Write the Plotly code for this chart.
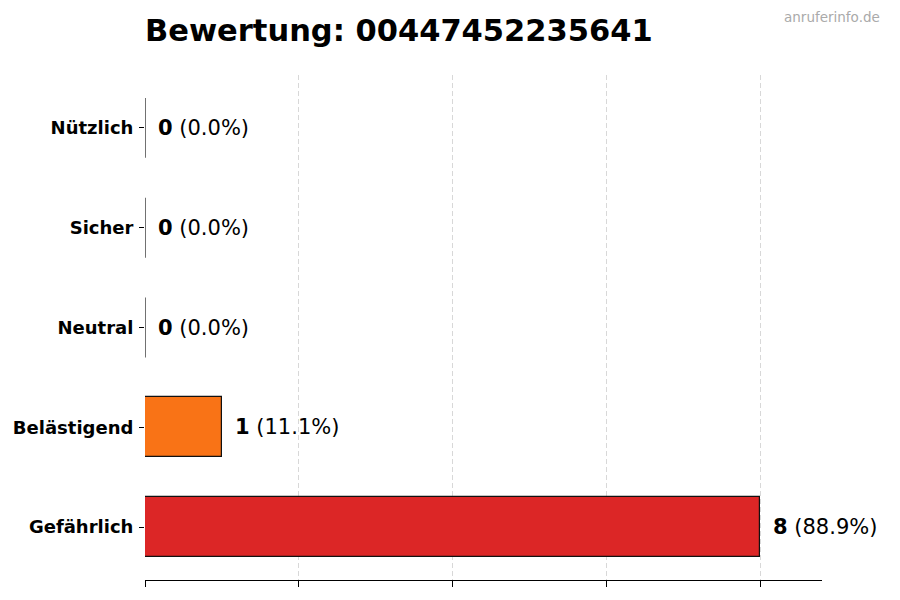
import plotly.graph_objects as go

categories = ["Gefährlich", "Belästigend", "Neutral", "Sicher", "Nützlich"]
counts = [8, 1, 0, 0, 0]
colors = ["#dc2626", "#f97316", "#9ca3af", "#16a34a", "#2563eb"]
title_text = "Bewertung: 00447452235641"
watermark = "anruferinfo.de"

total = sum(counts)
ypos = list(range(len(categories)))
bar_h = 0.6

# page body has an 8px default offset; compensate in the margins
OFF = 8
L, R, T, B = 145 - OFF, 900 - (822 - OFF), 75 - OFF, 600 - (580 - OFF)
PW, PH = 900 - L - R, 600 - T - B

fig = go.Figure()
fig.add_trace(go.Bar(
    x=counts, y=ypos, orientation="h", width=bar_h,
    marker=dict(color=colors, line=dict(color="#111111", width=1.2)),
    hoverinfo="skip", showlegend=False,
))

# zero-valued bars: draw their outline edge as matplotlib does
for i, c in enumerate(counts):
    if c == 0:
        fig.add_shape(type="line", xref="x", yref="y",
                      x0=c, x1=c, y0=i - bar_h / 2, y1=i + bar_h / 2,
                      line=dict(color="#111111", width=1.2))

for i, c in enumerate(counts):
    pct = 100 * c / total if total else 0
    fig.add_annotation(
        x=c, y=i, xref="x", yref="y",
        text=f"<b>{c}</b> ({pct:.1f}%)",
        showarrow=False, xanchor="left", yanchor="middle", xshift=11,
        font=dict(family="DejaVu Sans", size=21, color="#000000"),
    )

fig.add_annotation(
    x=1 + (882 - OFF - (900 - R)) / PW, y=1 + (T - (17 - OFF)) / PH,
    xref="paper", yref="paper", text=watermark, showarrow=False,
    font=dict(family="DejaVu Sans", size=13.5, color="#aaaaaa"),
    xanchor="right", yanchor="middle",
)

fig.update_layout(
    width=900, height=600,
    margin=dict(l=L, r=R, t=T, b=B),
    plot_bgcolor="white", paper_bgcolor="white",
    title=dict(text=f"<b>{title_text}</b>", x=0, xref="paper", xanchor="left",
               y=1 - (30 - OFF) / 600, yref="container", yanchor="middle",
               font=dict(family="DejaVu Sans", size=30.5, color="#000000")),
    bargap=0,
)
fig.update_xaxes(
    range=[0, max(counts) * 1.1], dtick=2, tick0=0,
    showticklabels=False, ticks="outside", ticklen=6, tickcolor="#000000", tickwidth=1,
    showline=True, linecolor="#000000", linewidth=1.2,
    showgrid=True, gridcolor="rgba(190,190,190,0.6)", griddash="5px,3px", gridwidth=1,
    zeroline=False, layer="above traces", automargin=False,
)
fig.update_yaxes(
    range=[-0.53, len(categories) - 1 + 0.53],
    tickvals=ypos, ticktext=categories,
    ticks="outside", ticklen=5, tickcolor="#000000", tickwidth=1,
    tickfont=dict(family="DejaVu Sans", size=18, color="#000000", weight="bold"),
    showline=False, showgrid=False, zeroline=False, ticklabelstandoff=2,
    automargin=False,
)

fig.write_html("out.html")
